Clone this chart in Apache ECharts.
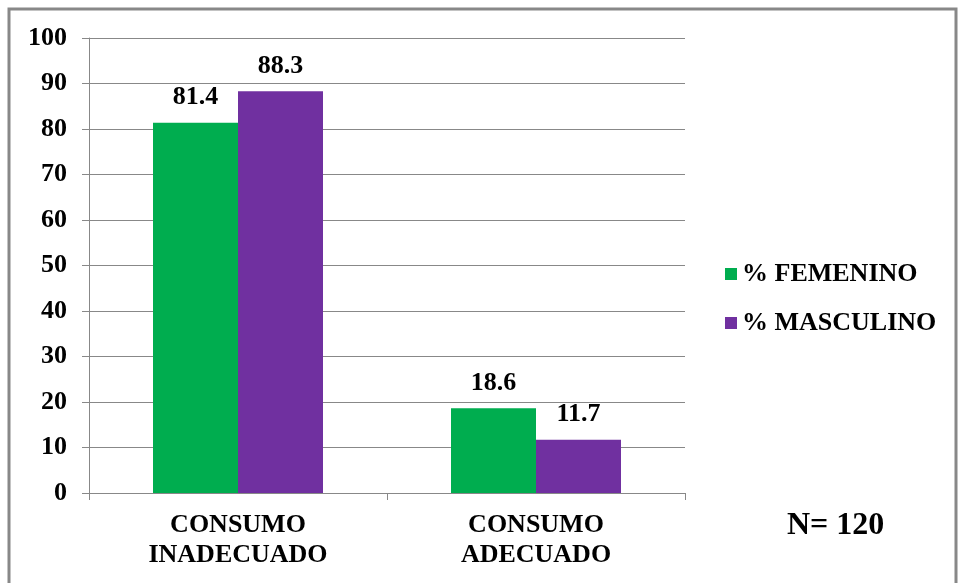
<!DOCTYPE html>
<html>
<head>
<meta charset="utf-8">
<script src="https://cdn.jsdelivr.net/npm/echarts@6/dist/echarts.min.js"></script>
<style>
  html, body { margin: 0; padding: 0; background: #fff; }
  #chart { width: 959px; height: 583px; }
</style>
</head>
<body>
<div id="chart"></div>
<script>
var categorias = ['CONSUMO\nINADECUADO', 'CONSUMO\nADECUADO'];
var femenino = [81.4, 18.6];
var masculino = [88.3, 11.7];
var yTicks = [0, 100, 10]; // min, max, intervalo

var fuente = '"Liberation Serif", "Times New Roman", serif';

var myChart = echarts.init(document.getElementById('chart'));

var etiqueta = {
    show: true, position: 'top', distance: 12,
    fontFamily: fuente, fontWeight: 'bold', fontSize: 26, color: '#000'
};

var option = {
    backgroundColor: '#fff',
    animation: false,
    textStyle: { fontFamily: fuente },
    grid: { left: 89, right: 274, top: 38, bottom: 90 },
    legend: {
        orient: 'vertical',
        left: 720,
        top: 256,
        itemWidth: 12,
        itemHeight: 12,
        itemGap: 23,
        icon: 'rect',
        textStyle: { fontFamily: fuente, fontWeight: 'bold', fontSize: 26, color: '#000' },
        data: ['% FEMENINO', '% MASCULINO']
    },
    xAxis: {
        type: 'category',
        data: categorias,
        axisLine: { lineStyle: { color: '#888', width: 1 } },
        axisTick: { show: true, length: 7, lineStyle: { color: '#888' } },
        axisLabel: {
            fontFamily: fuente, fontWeight: 'bold', fontSize: 26, color: '#000',
            lineHeight: 30, margin: 17
        }
    },
    yAxis: {
        type: 'value',
        min: yTicks[0], max: yTicks[1], interval: yTicks[2],
        axisLine: { show: true, lineStyle: { color: '#888', width: 1 } },
        axisTick: { show: true, length: 7, lineStyle: { color: '#888' } },
        splitLine: { lineStyle: { color: '#888', width: 1 } },
        axisLabel: { fontFamily: fuente, fontWeight: 'bold', fontSize: 26, color: '#000', margin: 22 }
    },
    series: [
        {
            name: '% FEMENINO',
            type: 'bar',
            data: femenino,
            barWidth: 85,
            barGap: '0%',
            itemStyle: { color: '#00AD4F' },
            label: etiqueta
        },
        {
            name: '% MASCULINO',
            type: 'bar',
            data: masculino,
            barWidth: 85,
            barGap: '0%',
            itemStyle: { color: '#7030A0' },
            label: etiqueta
        }
    ],
    graphic: [
        {
            type: 'rect',
            shape: { x: 9, y: 9, width: 947, height: 580 },
            style: { fill: null, stroke: '#888', lineWidth: 3 },
            silent: true
        },
        {
            type: 'text',
            left: 787,
            top: 510,
            style: {
                text: 'N= 120',
                font: 'bold 32px ' + fuente,
                fill: '#000'
            }
        }
    ]
};
myChart.setOption(option);
</script>
</body>
</html>
